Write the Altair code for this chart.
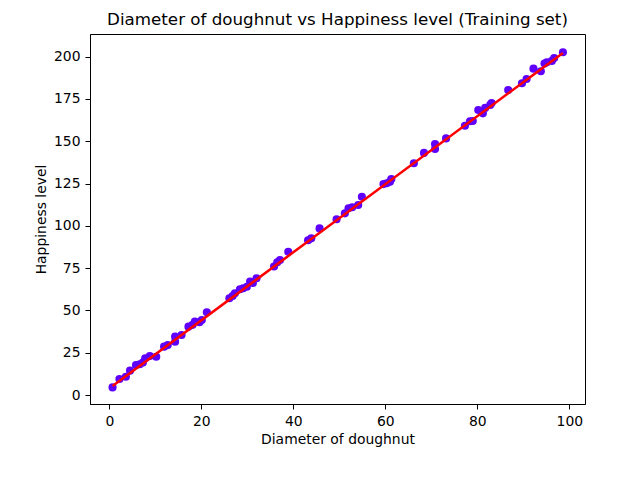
import altair as alt
import pandas as pd

diameter = [0.7, 2.2, 3.6, 4.5, 5.8, 6.6, 7.3, 7.8, 8.8, 10.2, 11.9, 12.7, 14.3, 14.3, 15.7,
            17.2, 18.1, 18.6, 19.6, 20.1, 21.2, 26.1, 26.8, 27.3, 28.4, 29.1, 29.9, 30.6, 31.2,
            32.0, 35.8, 36.5, 37.1, 38.9, 43.2, 43.9, 45.7, 49.4, 51.2, 52.0, 52.8, 54.1, 54.9,
            59.6, 60.3, 61.0, 61.3, 66.2, 68.4, 70.8, 70.8, 73.2, 77.3, 78.4, 79.0, 80.2, 81.2,
            81.7, 82.8, 83.1, 86.7, 89.7, 90.7, 92.2, 93.8, 94.6, 95.1, 96.2, 96.7, 98.6]
happiness = [4.5, 9.5, 10.8, 14.4, 17.7, 18.2, 19.2, 21.7, 23.0, 22.6, 28.6, 29.5, 31.5, 34.5, 35.5,
             40.4, 41.5, 43.5, 43.0, 44.3, 48.9, 57.2, 58.5, 60.1, 62.5, 63.1, 64.0, 67.0, 66.2,
             69.0, 76.0, 78.5, 79.8, 84.7, 91.5, 92.6, 98.5, 103.9, 107.4, 110.4, 111.0, 112.3, 117.2,
             124.7, 125.2, 126.0, 127.7, 137.0, 143.1, 145.4, 148.4, 151.7, 159.2, 161.8, 162.0, 168.5, 166.5,
             169.7, 171.5, 172.6, 180.3, 184.3, 186.8, 192.9, 191.4, 196.0, 196.7, 197.5, 199.2, 202.6]

fit_x = [0.7, 98.6]
fit_y = [5.4, 202.2]

x_ticks = [0, 20, 40, 60, 80, 100]
y_ticks = [0, 25, 50, 75, 100, 125, 150, 175, 200]

pts = pd.DataFrame({"x": diameter, "y": happiness})
fit = pd.DataFrame({"x": fit_x, "y": fit_y})

FONT = "DejaVu Sans"

xscale = alt.Scale(domain=[-4.2, 103.4], nice=False, zero=False)
yscale = alt.Scale(domain=[-5.3, 213.4], nice=False, zero=False)

xaxis = alt.Axis(title="Diameter of doughnut", values=x_ticks, grid=False, format="d",
                 titlePadding=5)
yaxis = alt.Axis(title="Happiness level", values=y_ticks, grid=False, format="d",
                 titlePadding=5)

scatter = alt.Chart(pts).mark_circle(size=66, color="#5e00fb", opacity=1).encode(
    x=alt.X("x:Q", scale=xscale, axis=xaxis),
    y=alt.Y("y:Q", scale=yscale, axis=yaxis),
)

line = alt.Chart(fit).mark_line(color="#ff0000", strokeWidth=2.5).encode(
    x=alt.X("x:Q", scale=xscale),
    y=alt.Y("y:Q", scale=yscale),
)

chart = (scatter + line).properties(
    width=495,
    height=370,
    autosize="none",
    background="white",
    padding={"left": 90, "top": 34, "right": 47, "bottom": 75},
    title=alt.TitleParams(
        "Diameter of doughnut vs Happiness level (Training set)",
        font=FONT, fontSize=16.7, fontWeight="normal", color="black",
        anchor="middle", offset=5,
    ),
).configure_view(
    stroke="black", strokeWidth=1
).configure_axis(
    domainColor="black", domainWidth=1, tickColor="black", tickWidth=1, tickSize=5,
    labelColor="black", labelFont=FONT, labelFontSize=13.9, labelPadding=5,
    titleColor="black", titleFont=FONT, titleFontSize=13.9, titleFontWeight="normal",
)

chart.save("out.html", embed_options={"renderer": "svg", "actions": False})
